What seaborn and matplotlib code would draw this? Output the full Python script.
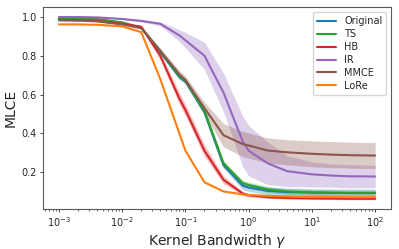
import numpy as np
import pandas as pd
import matplotlib
matplotlib.use("Agg")
import matplotlib.pyplot as plt
import seaborn as sns

# Valeurs
gamma = [0.001, 0.002, 0.004, 0.01, 0.02, 0.04, 0.08, 0.1, 0.2, 0.4, 0.8, 1, 2, 4, 10, 20, 40, 100]

original = [0.99, 0.99, 0.988, 0.97, 0.945, 0.82, 0.69, 0.668, 0.508, 0.235, 0.13, 0.12, 0.103, 0.097, 0.094, 0.093, 0.092, 0.092]
original_err = [0.003, 0.003, 0.003, 0.004, 0.005, 0.01, 0.012, 0.012, 0.015, 0.015, 0.02, 0.02, 0.02, 0.02, 0.02, 0.02, 0.02, 0.02]

ts = [0.992, 0.992, 0.99, 0.972, 0.945, 0.825, 0.695, 0.672, 0.515, 0.245, 0.143, 0.133, 0.11, 0.1, 0.095, 0.093, 0.092, 0.092]
ts_err = [0.003, 0.003, 0.003, 0.004, 0.005, 0.01, 0.012, 0.012, 0.015, 0.015, 0.015, 0.015, 0.015, 0.015, 0.015, 0.015, 0.015, 0.015]

hb = [0.985, 0.984, 0.98, 0.965, 0.95, 0.80, 0.58, 0.52, 0.31, 0.16, 0.09, 0.08, 0.07, 0.066, 0.064, 0.063, 0.062, 0.062]
hb_err = [0.003, 0.003, 0.003, 0.004, 0.005, 0.02, 0.03, 0.03, 0.03, 0.02, 0.01, 0.008, 0.006, 0.005, 0.005, 0.005, 0.005, 0.005]

ir = [1.0, 1.0, 0.998, 0.99, 0.98, 0.965, 0.905, 0.88, 0.80, 0.61, 0.36, 0.31, 0.245, 0.205, 0.188, 0.182, 0.178, 0.177]
ir_err = [0.002, 0.002, 0.002, 0.004, 0.006, 0.01, 0.03, 0.04, 0.07, 0.10, 0.13, 0.13, 0.11, 0.08, 0.065, 0.06, 0.06, 0.058]

mmce = [0.983, 0.982, 0.978, 0.962, 0.943, 0.825, 0.705, 0.675, 0.53, 0.39, 0.345, 0.337, 0.311, 0.302, 0.294, 0.29, 0.287, 0.285]
mmce_err = [0.004, 0.004, 0.004, 0.005, 0.006, 0.015, 0.02, 0.02, 0.03, 0.06, 0.065, 0.065, 0.065, 0.065, 0.067, 0.067, 0.067, 0.067]

lore = [0.962, 0.962, 0.96, 0.952, 0.922, 0.68, 0.40, 0.31, 0.147, 0.10, 0.085, 0.082, 0.077, 0.074, 0.072, 0.071, 0.07, 0.07]
lore_err = [0.002, 0.002, 0.002, 0.003, 0.004, 0.005, 0.006, 0.006, 0.005, 0.004, 0.004, 0.004, 0.004, 0.004, 0.004, 0.004, 0.004, 0.004]

methodes = ["Original", "TS", "HB", "IR", "MMCE", "LoRe"]
moyennes = [original, ts, hb, ir, mmce, lore]
ecarts = [original_err, ts_err, hb_err, ir_err, mmce_err, lore_err]
couleurs = ["#1f77b4", "#2ca02c", "#d62728", "#9467bd", "#8c564b", "#ff7f0e"]

sns.set_style("ticks")
plt.rcParams["font.family"] = ["DejaVu Sans"]


def construire_table():
    # deux observations par point (moyenne +/- écart) -> bande min/max
    lignes = []
    for nom, m, e in zip(methodes, moyennes, ecarts):
        for g, v, d in zip(gamma, m, e):
            lignes.append({"gamma": g, "MLCE": v - d, "methode": nom})
            lignes.append({"gamma": g, "MLCE": v + d, "methode": nom})
    return pd.DataFrame(lignes)


df = construire_table()

fig = plt.figure(figsize=(3.99, 2.49), dpi=100)
ax = fig.add_axes([0.108, 0.161, 0.872, 0.809])

for nom, c in zip(methodes, couleurs):
    sns.lineplot(data=df[df["methode"] == nom], x="gamma", y="MLCE",
                 errorbar=("pi", 100), color=c, lw=1.5, label=nom,
                 err_kws={"alpha": 0.3, "linewidth": 0}, ax=ax)

ax.set_xscale("log")
ax.set_xlabel(r"Kernel Bandwidth $\gamma$", fontsize=10, labelpad=2)
ax.set_ylabel("MLCE", fontsize=10, labelpad=3)
ax.set_yticks([0.2, 0.4, 0.6, 0.8, 1.0])
ax.tick_params(axis="both", labelsize=7, length=2.5, width=0.6, pad=2)
ax.tick_params(axis="x", which="minor", length=1.5, width=0.5)
for s in ax.spines.values():
    s.set_linewidth(0.8)
    s.set_color("0.35")

ax.legend(loc="upper right", fontsize=7, handlelength=2.0, borderpad=0.4,
          labelspacing=0.3, handletextpad=0.8, borderaxespad=0.5)

fig.savefig("out.png", dpi=100)
